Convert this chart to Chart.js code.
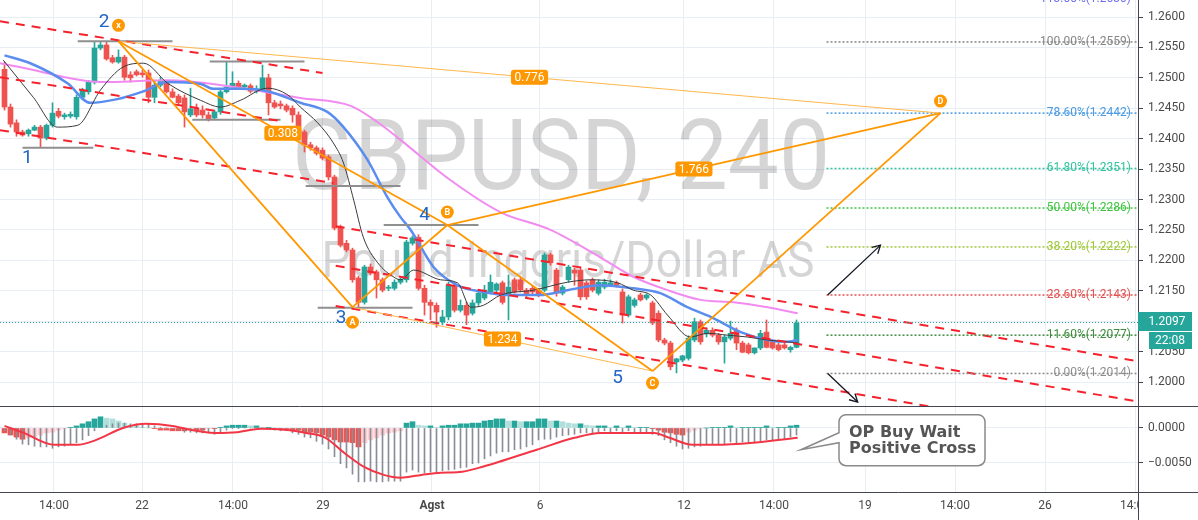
<!DOCTYPE html>
<html>
<head>
<meta charset="utf-8">
<title>GBPUSD 240</title>
<script src="https://cdn.jsdelivr.net/npm/chart.js@4.4.1/dist/chart.umd.min.js"></script>
<style>
html,body{margin:0;padding:0;background:#ffffff;overflow:hidden;}
#wrap{position:relative;width:1198px;height:520px;background:#fff;}
#c1{position:absolute;left:0;top:0;}
#c2{position:absolute;left:0;top:406px;}
</style>
</head>
<body>
<div id="wrap">
<canvas id="c1" width="1198" height="406"></canvas>
<canvas id="c2" width="1198" height="114"></canvas>
</div>
<script>
// ---------------- DATA ----------------
const candleOpen = [1.2514,1.2452,1.2426,1.2411,1.2408,1.2414,1.2419,1.2401,1.2422,1.2445,
1.2436,1.2437,1.2436,1.2468,1.2477,1.2493,1.2549,1.2554,1.2533,1.2526,
1.2534,1.2505,1.2510,1.2508,1.2508,1.2468,1.2488,1.2491,1.2477,1.2470,
1.2467,1.2439,1.2450,1.2447,1.2439,1.2434,1.2444,1.2477,1.2485,1.2491,
1.2485,1.2487,1.2478,1.2478,1.2500,1.2459,1.2457,1.2454,1.2450,1.2439,
1.2411,1.2390,1.2385,1.2381,1.2370,1.2337,1.2255,1.2228,1.2217,1.2171,
1.2131,1.2189,1.2181,1.2168,1.2154,1.2154,1.2164,1.2168,1.2228,1.2238,
1.2154,1.2131,1.2126,1.2099,1.2107,1.2159,1.2118,1.2126,1.2113,1.2130,
1.2138,1.2148,1.2151,1.2163,1.2143,1.2168,1.2168,1.2151,1.2154,1.2151,
1.2151,1.2209,1.2184,1.2146,1.2168,1.2184,1.2184,1.2163,1.2168,1.2146,
1.2156,1.2159,1.2163,1.2148,1.2110,1.2126,1.2143,1.2138,1.2130,1.2113,
1.2069,1.2064,1.2033,1.2036,1.2039,1.2069,1.2099,1.2079,1.2085,1.2077,
1.2066,1.2072,1.2085,1.2064,1.2061,1.2048,1.2056,1.2082,1.2066,1.2061,
1.2061,1.2053,1.2057];
const candleHigh = [1.2526,1.2457,1.2431,1.2414,1.2416,1.2422,1.2422,1.2424,1.2459,1.2450,
1.2442,1.2444,1.2472,1.2483,1.2496,1.2559,1.2559,1.2559,1.2537,1.2546,
1.2537,1.2510,1.2513,1.2513,1.2513,1.2496,1.2501,1.2496,1.2482,1.2473,
1.2472,1.2483,1.2457,1.2454,1.2444,1.2447,1.2480,1.2526,1.2510,1.2495,
1.2490,1.2490,1.2487,1.2521,1.2506,1.2463,1.2462,1.2457,1.2454,1.2444,
1.2414,1.2394,1.2388,1.2385,1.2373,1.2340,1.2258,1.2233,1.2220,1.2174,
1.2192,1.2194,1.2184,1.2171,1.2159,1.2168,1.2171,1.2233,1.2240,1.2242,
1.2159,1.2135,1.2130,1.2118,1.2164,1.2163,1.2135,1.2131,1.2135,1.2151,
1.2159,1.2176,1.2163,1.2166,1.2176,1.2171,1.2173,1.2154,1.2158,1.2154,
1.2212,1.2212,1.2187,1.2159,1.2192,1.2187,1.2187,1.2166,1.2171,1.2168,
1.2169,1.2168,1.2166,1.2153,1.2143,1.2138,1.2146,1.2145,1.2133,1.2117,
1.2072,1.2067,1.2039,1.2044,1.2076,1.2105,1.2102,1.2089,1.2089,1.2080,
1.2077,1.2100,1.2089,1.2067,1.2064,1.2056,1.2085,1.2102,1.2069,1.2064,
1.2064,1.2059,1.2102];
const candleLow = [1.2447,1.2419,1.2404,1.2404,1.2404,1.2413,1.2385,1.2398,1.2419,1.2434,
1.2432,1.2434,1.2432,1.2465,1.2473,1.2490,1.2546,1.2529,1.2524,1.2524,
1.2496,1.2493,1.2503,1.2501,1.2459,1.2459,1.2485,1.2475,1.2467,1.2455,
1.2419,1.2436,1.2436,1.2434,1.2429,1.2431,1.2440,1.2475,1.2483,1.2482,
1.2483,1.2475,1.2475,1.2477,1.2439,1.2450,1.2449,1.2444,1.2427,1.2411,
1.2378,1.2381,1.2373,1.2365,1.2332,1.2250,1.2222,1.2214,1.2164,1.2122,
1.2128,1.2176,1.2138,1.2148,1.2150,1.2151,1.2161,1.2164,1.2225,1.2151,
1.2110,1.2102,1.2090,1.2094,1.2102,1.2115,1.2115,1.2094,1.2110,1.2126,
1.2135,1.2145,1.2148,1.2128,1.2102,1.2146,1.2148,1.2140,1.2145,1.2140,
1.2148,1.2192,1.2141,1.2143,1.2164,1.2159,1.2135,1.2136,1.2148,1.2143,
1.2153,1.2158,1.2156,1.2097,1.2107,1.2123,1.2133,1.2135,1.2094,1.2066,
1.2061,1.2020,1.2015,1.2033,1.2036,1.2066,1.2062,1.2074,1.2074,1.2062,
1.2031,1.2069,1.2053,1.2048,1.2046,1.2046,1.2053,1.2056,1.2054,1.2051,
1.2054,1.2049,1.2056];
const candleClose = [1.2452,1.2424,1.2411,1.2406,1.2414,1.2419,1.2401,1.2422,1.2442,1.2437,
1.2439,1.2440,1.2468,1.2480,1.2493,1.2549,1.2554,1.2531,1.2526,1.2534,
1.2501,1.2500,1.2505,1.2505,1.2468,1.2488,1.2496,1.2477,1.2468,1.2459,
1.2444,1.2449,1.2439,1.2439,1.2431,1.2444,1.2477,1.2485,1.2491,1.2485,
1.2488,1.2478,1.2482,1.2500,1.2459,1.2452,1.2454,1.2447,1.2439,1.2411,
1.2390,1.2385,1.2376,1.2368,1.2337,1.2253,1.2225,1.2217,1.2168,1.2131,
1.2189,1.2179,1.2168,1.2151,1.2156,1.2164,1.2169,1.2230,1.2237,1.2154,
1.2131,1.2126,1.2115,1.2107,1.2159,1.2118,1.2126,1.2110,1.2130,1.2146,
1.2151,1.2164,1.2161,1.2131,1.2156,1.2148,1.2151,1.2143,1.2148,1.2143,
1.2209,1.2196,1.2146,1.2156,1.2189,1.2179,1.2140,1.2140,1.2151,1.2164,
1.2164,1.2163,1.2159,1.2110,1.2140,1.2135,1.2135,1.2143,1.2097,1.2069,
1.2064,1.2025,1.2038,1.2043,1.2072,1.2099,1.2066,1.2085,1.2077,1.2066,
1.2074,1.2080,1.2064,1.2049,1.2048,1.2056,1.2080,1.2057,1.2056,1.2053,
1.2056,1.2057,1.2097];

// moving averages (candle index, price)
const maBlueIdx = [0,4.3,10.5,14.3,18.8,23.2,27.2,32.7,34.8,39.3,43.8,49.3,53.8,56.5,60.5,63.8,66,67.7,71.5,75.5,79.8,83.8,89.3,93.8,99.3,104.8,109.3,113.8,117.7,122.7,127.2,130.5,132.2];
const maBluePrice = [1.2537,1.2524,1.2491,1.2459,1.2465,1.2478,1.2493,1.2490,1.2482,1.2482,1.2478,1.2459,1.2444,1.2419,1.2365,1.2304,1.2271,1.2250,1.2189,1.2159,1.2148,1.2143,1.2143,1.2151,1.2159,1.2154,1.2146,1.2123,1.2107,1.2082,1.2069,1.2066,1.2069];
const maPinkIdx = [-0.75,4.8,10.5,16,27.2,38.2,49.3,57.7,62.2,66,74.3,82.7,91,99.3,104.8,110.5,116,121.5,127.2,132.2];
const maPinkPrice = [1.2524,1.2513,1.2500,1.2493,1.2496,1.2485,1.2467,1.2454,1.2427,1.2398,1.2332,1.2279,1.2250,1.2205,1.2173,1.2151,1.2135,1.2131,1.2123,1.2113];
const maBlackIdx = [-0.2,4.8,8.8,12.2,16,19.8,23.2,27.2,32.7,36,39.3,43.8,47.2,49.3,52.2,54.8,56.5,58.2,59.8,62.2,64.8,66,68.2,72.7,75.5,77.7,79.8,82.7,88.2,93.8,97.7,102.2,104.8,107.7,110.5,114.3,117.2,120.5,123.8,127.2,130.5,132.2];
const maBlackPrice = [1.2529,1.2468,1.2419,1.2422,1.2480,1.2518,1.2524,1.2491,1.2463,1.2452,1.2463,1.2483,1.2472,1.2452,1.2426,1.2393,1.2360,1.2299,1.2238,1.2196,1.2173,1.2168,1.2184,1.2168,1.2163,1.2123,1.2126,1.2143,1.2151,1.2164,1.2168,1.2163,1.2151,1.2143,1.2110,1.2074,1.2080,1.2077,1.2074,1.2069,1.2066,1.2064];

// MACD panel
const macdLine = [-0.0004,-0.0010,-0.0016,-0.0023,-0.0024,-0.0026,-0.0027,-0.0027,-0.0029,-0.0027,
-0.0026,-0.0023,-0.0021,-0.0017,-0.0011,-0.0004,0.0001,0.0004,0.0006,0.0007,
0.0007,0.0006,0.0006,0.0006,0.0006,0.0003,0.0001,0,-0.0001,-0.0003,
-0.0006,-0.0006,-0.0007,-0.0007,-0.0007,-0.0009,-0.0006,-0.0003,-0.0001,-0.0001,
0,0,0.0001,0,0,-0.0003,-0.0004,-0.0004,-0.0007,-0.0009,
-0.0013,-0.0014,-0.0019,-0.0023,-0.0030,-0.0041,-0.0051,-0.0057,-0.0066,-0.0077,
-0.0077,-0.0076,-0.0077,-0.0077,-0.0076,-0.0076,-0.0076,-0.0063,-0.0060,-0.0063,
-0.0064,-0.0063,-0.0063,-0.0061,-0.0060,-0.0059,-0.0057,-0.0056,-0.0051,-0.0050,
-0.0044,-0.0040,-0.0036,-0.0034,-0.0034,-0.0031,-0.0030,-0.0027,-0.0024,-0.0017,
-0.0016,-0.0016,-0.0013,-0.0011,-0.0010,-0.0009,-0.0007,-0.0007,-0.0007,-0.0006,
-0.0004,-0.0006,-0.0004,-0.0006,-0.0004,-0.0006,-0.0006,-0.0006,-0.0009,-0.0011,
-0.0017,-0.0021,-0.0026,-0.0030,-0.0029,-0.0027,-0.0026,-0.0024,-0.0023,-0.0023,
-0.0023,-0.0020,-0.0021,-0.0020,-0.0020,-0.0020,-0.0019,-0.0017,-0.0017,-0.0016,
-0.0016,-0.0013,-0.0010];
const macdHist = [-0.0007,-0.0010,-0.0013,-0.0016,-0.0014,-0.0013,-0.0010,-0.0007,-0.0006,-0.0003,
-0.0001,0.0001,0.0003,0.0006,0.0009,0.0013,0.0016,0.0014,0.0013,0.0010,
0.0007,0.0004,0.0003,0.0001,0,-0.0001,-0.0003,-0.0003,-0.0004,-0.0004,
-0.0004,-0.0003,-0.0003,-0.0003,-0.0001,-0.0001,0.0001,0.0003,0.0004,0.0004,
0.0004,0.0003,0.0003,0.0001,0.0001,0,-0.0001,-0.0001,-0.0003,-0.0003,
-0.0006,-0.0006,-0.0007,-0.0010,-0.0013,-0.0017,-0.0020,-0.0020,-0.0021,-0.0027,
-0.0021,-0.0017,-0.0014,-0.0010,-0.0007,-0.0006,-0.0004,0.0007,0.0009,0.0004,
0.0003,0.0003,0.0001,0.0003,0.0004,0.0004,0.0006,0.0006,0.0007,0.0007,
0.0010,0.0011,0.0013,0.0013,0.0010,0.0010,0.0009,0.0009,0.0009,0.0013,
0.0013,0.0010,0.0010,0.0009,0.0007,0.0006,0.0006,0.0004,0.0003,0.0003,
0.0003,0.0001,0.0003,0.0001,0.0003,0.0001,0.0001,0.0001,-0.0001,-0.0003,
-0.0006,-0.0007,-0.0009,-0.0010,-0.0006,-0.0003,-0.0001,0,0.0001,0.0001,
0.0001,0.0003,0.0001,0.0001,0.0001,0.0001,0.0001,0.0003,0.0001,0.0001,
0.0001,0.0003,0.0004];
const signalIdx = [0,3.2,8.3,12.1,15.3,19.75,23.6,28,31.2,35,38.8,42.7,47.2,50.3,53.5,56.7,60,63.2,66,69.5,72.7,75.8,79,82.2,88.7,95,99.3,108.3,110.8,114.7,118.5,124.8,132.2];
const signalVal = [0.0003,-0.0007,-0.0024,-0.0024,-0.0017,0,0.0006,0.0003,-0.0003,-0.0007,-0.0006,-0.0001,-0.0003,-0.0007,-0.0014,-0.0036,-0.0056,-0.0067,-0.0071,-0.0067,-0.0064,-0.0063,-0.0057,-0.0049,-0.0031,-0.0014,-0.0007,-0.0007,-0.0014,-0.0024,-0.0024,-0.0021,-0.0014];

// axes
const priceTicks = [1.2000,1.2050,1.2100,1.2150,1.2200,1.2250,1.2300,1.2350,1.2400,1.2450,1.2500,1.2550,1.2600];
const macdTicks = [0,-0.005];
const xTickPos = [8.25,22.92,38.08,53.08,71.25,89.25,113.25,128.25,143.42,158.42,173.42,188.42];
const xTickLabels = ['14:00','22','14:00','29','Agst','6','12','14:00','19','14:00','26','14:00'];
const lastPrice = 1.2097;
const lastTime = '22:08';

// drawings (candle index, price)
const patternNames = ['X','A','B','C','D'];
const patternIdx = [19,58,73.8,108,156];
const patternPrice = [1.2560,1.2123,1.2258,1.2018,1.2442];
const ratioLabels = [['X','B','0.308'],['X','D','0.776'],['B','D','1.766'],['A','C','1.234']];
const waveText = ['1','2','3','4','5'];
const waveIdx = [3.8,16.6,56.1,70,102.2];
const wavePrice = [1.2368,1.2592,1.2105,1.2274,1.2006];
const levelStart = [3,12.2,34.2,31.3,50.2,52.2,63.2];
const levelEnd = [14.8,28,50,46,66,68,79];
const levelPrice = [1.2385,1.2560,1.2527,1.2431,1.2322,1.2122,1.2258];
const channelStartIdx = [-0.75,-0.75,-0.75,55.2,55.2,55.2];
const channelStartPrice = [1.2593,1.2501,1.2414,1.2256,1.2191,1.2125];
const channelEndIdx = [53,46,54.8,188.9,188.9,188.9];
const channelEndPrice = [1.2508,1.2429,1.2327,1.2034,1.1968,1.1902];
const fibLabels = ['113.00%','100.00%','78.60%','61.80%','50.00%','38.20%','23.60%','11.60%','0.00%'];
const fibPrices = [1.2630,1.2559,1.2442,1.2351,1.2286,1.2222,1.2143,1.2077,1.2014];
const fibStart = 137, fibEnd = 188.4;
const arrowFrom = [[137.2,1.2143],[137.2,1.2014]];
const arrowTo = [[146,1.2225],[142.2,1.1967]];
const WATERMARK = ['GBPUSD, 240','Pound Inggris/Dollar AS'];
const CALLOUT = ['OP Buy Wait','Positive Cross'];
const calloutTip = [132.75,-0.0031];

// ---------------- STYLE ----------------
const UP='#26a69a', DOWN='#ef5350', GRID='#e9eef4', AXIS='#434651', TXT='#4a4a4a';
const ORANGE='#ff9800', ORANGE_L='#ffb74d';
const fibColors = ['#6f6fe8','#858585','#4a9be0','#33c39c','#3fc43f','#9fc83a','#e05252','#3d8b3d','#8c8c8c'];
const FONT = 'Roboto, "Liberation Sans", sans-serif';
const XMIN = -0.75, XMAX = 188.917;

function P(name){ const k = patternNames.indexOf(name); return [patternIdx[k], patternPrice[k]]; }
function lineDs(pts, color, width, dash, order, extra){
  return Object.assign({type:'line', data: pts.map(p=>({x:p[0], y:p[1]})), borderColor:color, borderWidth:width,
    borderDash:dash||[], pointRadius:0, pointHoverRadius:0, fill:false, tension:0, order:order}, extra||{});
}
function xScale(show){
  return {
    type:'linear', min:XMIN, max:XMAX, offset:false,
    afterBuildTicks: s => { s.ticks = xTickPos.map(v=>({value:v})); },
    afterFit: s => { s.paddingLeft = 0; s.paddingRight = 0; s.height = show ? 28 : 0; },
    grid:{color:GRID, drawTicks:false, offset:false, lineWidth:1},
    border:{display:false},
    ticks:{display:show, autoSkip:false, maxRotation:0, minRotation:0, padding:7, color:TXT,
      font: ctx => ({family:FONT, size:12, weight: xTickLabels[ctx.index]==='Agst' ? 'bold' : 'normal'}),
      callback:(v,i)=>xTickLabels[i]}
  };
}
function rrect(ctx,x,y,w,h,r){
  ctx.beginPath(); ctx.moveTo(x+r,y); ctx.lineTo(x+w-r,y); ctx.arcTo(x+w,y,x+w,y+r,r);
  ctx.lineTo(x+w,y+h-r); ctx.arcTo(x+w,y+h,x+w-r,y+h,r); ctx.lineTo(x+r,y+h); ctx.arcTo(x,y+h,x,y+h-r,r);
  ctx.lineTo(x,y+r); ctx.arcTo(x,y,x+r,y,r); ctx.closePath();
}

// ---------------- MAIN CHART ----------------
const ds = [];
// pattern
[['X','A'],['A','B'],['B','C'],['C','D'],['X','B'],['B','D']].forEach(s=>ds.push(lineDs([P(s[0]),P(s[1])],ORANGE,1.8,[],0)));
[['X','D'],['A','C']].forEach(s=>ds.push(lineDs([P(s[0]),P(s[1])],ORANGE_L,1,[],0)));
// arrows
arrowFrom.forEach((f,k)=>ds.push(lineDs([f,arrowTo[k]],'#131722',1.3,[],0)));
// fib levels
fibPrices.forEach((p,k)=>ds.push(lineDs([[fibStart,p],[fibEnd+0.4,p]],fibColors[k],1.5,[2,2],1)));
// channels
channelStartIdx.forEach((s,k)=>ds.push(lineDs([[s,channelStartPrice[k]],[channelEndIdx[k],channelEndPrice[k]]],'#f5222d',2,[9,7],1)));
// gray pivot levels
levelStart.forEach((s,k)=>ds.push(lineDs([[s,levelPrice[k]],[levelEnd[k],levelPrice[k]]],'#8f8f8f',2,[],1)));
// moving averages
ds.push(lineDs(maBlackIdx.map((x,i)=>[x,maBlackPrice[i]]),'#3a3a3a',1,[],2,{cubicInterpolationMode:'monotone'}));
ds.push(lineDs(maBlueIdx.map((x,i)=>[x,maBluePrice[i]]),'#5b8def',2.5,[],3,{cubicInterpolationMode:'monotone'}));
ds.push(lineDs(maPinkIdx.map((x,i)=>[x,maPinkPrice[i]]),'#f28bf0',2,[],3,{cubicInterpolationMode:'monotone'}));
// candles
const candleColors = candleClose.map((c,i)=> c>=candleOpen[i] ? UP : DOWN);
ds.push({type:'bar', data: candleOpen.map((o,i)=>({x:i, y:[o, candleClose[i]]})), backgroundColor:candleColors,
  barThickness:5, grouped:false, minBarLength:1, borderWidth:0, order:5});
ds.push({type:'bar', data: candleLow.map((l,i)=>({x:i, y:[l, candleHigh[i]]})), backgroundColor:candleColors,
  barThickness:1, grouped:false, minBarLength:1, borderWidth:0, order:6});

const mainPlugin = {
  id:'mainDeco',
  beforeDatasetsDraw(c){
    const ctx=c.ctx, a=c.chartArea, Y=c.scales.y;
    ctx.save();
    ctx.beginPath(); ctx.rect(a.left,a.top,a.right-a.left,a.bottom-a.top); ctx.clip();
    ctx.fillStyle='rgba(0,0,0,0.165)'; ctx.textAlign='center'; ctx.textBaseline='alphabetic';
    const cx=(a.left+a.right)/2;
    ctx.font='98px '+FONT; ctx.fillText(WATERMARK[0], cx-8, 189, 538);
    ctx.font='50px '+FONT; ctx.fillText(WATERMARK[1], cx-1, 277, 493);
    ctx.restore();
  },
  afterDatasetsDraw(c){
    const ctx=c.ctx, a=c.chartArea, X=c.scales.x, Y=c.scales.y;
    const px=(i,p)=>[X.getPixelForValue(i), Y.getPixelForValue(p)];
    ctx.save();
    ctx.beginPath(); ctx.rect(a.left,a.top,a.right-a.left,a.bottom-a.top); ctx.clip();
    // last price line
    const yl=Math.round(Y.getPixelForValue(lastPrice))-0.5;
    ctx.strokeStyle=UP; ctx.lineWidth=1; ctx.setLineDash([1,2]);
    ctx.beginPath(); ctx.moveTo(a.left,yl); ctx.lineTo(a.right,yl); ctx.stroke();
    ctx.setLineDash([]);
    // arrowheads
    ctx.strokeStyle='#131722'; ctx.lineWidth=1.3;
    arrowFrom.forEach((f,k)=>{
      const [x0,y0]=px(f[0],f[1]), [x1,y1]=px(arrowTo[k][0],arrowTo[k][1]);
      const ang=Math.atan2(y1-y0,x1-x0), L=9;
      ctx.beginPath();
      ctx.moveTo(x1-L*Math.cos(ang-0.5), y1-L*Math.sin(ang-0.5)); ctx.lineTo(x1,y1);
      ctx.lineTo(x1-L*Math.cos(ang+0.5), y1-L*Math.sin(ang+0.5)); ctx.stroke();
    });
    // fib labels
    ctx.font='12px '+FONT; ctx.textAlign='right'; ctx.textBaseline='middle';
    fibLabels.forEach((t,k)=>{
      ctx.fillStyle=fibColors[k];
      ctx.fillText(t+'('+fibPrices[k].toFixed(4)+')', X.getPixelForValue(fibEnd)-4, Y.getPixelForValue(fibPrices[k]));
    });
    // ratio labels
    ctx.font='12px '+FONT; ctx.textAlign='center';
    ratioLabels.forEach(r=>{
      const a1=P(r[0]), b1=P(r[1]);
      const [x,y]=px((a1[0]+b1[0])/2,(a1[1]+b1[1])/2);
      const w=ctx.measureText(r[2]).width+7;
      ctx.fillStyle=ORANGE; rrect(ctx,x-w/2,y-7.5,w,15,3); ctx.fill();
      ctx.fillStyle='#fff'; ctx.fillText(r[2],x,y+0.5);
    });
    // pattern markers
    const off={X:-16,A:15,B:-13,C:12,D:-12};
    patternNames.forEach((n,k)=>{
      const [x,y]=px(patternIdx[k],patternPrice[k]);
      const yy=y+off[n];
      ctx.fillStyle=ORANGE; ctx.beginPath(); ctx.arc(x,yy,6.5,0,Math.PI*2); ctx.fill();
      ctx.fillStyle='#fff'; ctx.font='bold 9px '+FONT; ctx.textAlign='center'; ctx.textBaseline='middle';
      ctx.fillText(n.toLowerCase()==='x'?'x':n,x,yy+0.5);
    });
    // wave numbers
    ctx.font='19px '+FONT; ctx.fillStyle='#2166c2'; ctx.textAlign='center'; ctx.textBaseline='middle';
    waveText.forEach((t,k)=>{ const [x,y]=px(waveIdx[k],wavePrice[k]); ctx.fillText(t,x,y); });
    ctx.restore();
  },
  afterDraw(c){
    const ctx=c.ctx, a=c.chartArea, Y=c.scales.y;
    ctx.save();
    ctx.strokeStyle=AXIS; ctx.lineWidth=1;
    ctx.beginPath(); ctx.moveTo(a.right+0.5,0); ctx.lineTo(a.right+0.5,c.height); ctx.stroke();
    const yp=Math.round(Y.getPixelForValue(lastPrice));
    ctx.fillStyle=UP;
    ctx.fillRect(a.right,yp-11,54,19);
    ctx.fillRect(a.right+11,yp+9,43,17);
    ctx.fillStyle='#fff'; ctx.font='12px '+FONT; ctx.textAlign='center'; ctx.textBaseline='middle';
    ctx.fillText(lastPrice.toFixed(4), a.right+29, yp-1.5);
    ctx.fillText(lastTime, a.right+32, yp+17.5);
    ctx.restore();
  }
};

new Chart(document.getElementById('c1'), {
  type:'bar',
  data:{datasets:ds},
  options:{
    responsive:false, animation:false, events:[], devicePixelRatio:1,
    layout:{padding:0},
    plugins:{legend:{display:false}, tooltip:{enabled:false}},
    scales:{
      x: xScale(false),
      y: {type:'linear', position:'right', min:1.196055, max:1.262795,
        afterBuildTicks: s => { s.ticks = priceTicks.map(v=>({value:v})); },
        afterFit: s => { s.width = 60; s.paddingTop = 0; s.paddingBottom = 0; },
        grid:{color:GRID, tickColor:AXIS, tickLength:5, drawTicks:true},
        border:{display:false},
        ticks:{padding:5, color:TXT, font:{family:FONT, size:12}, callback:v=>v.toFixed(4)}
      }
    }
  },
  plugins:[mainPlugin]
});

// ---------------- MACD CHART ----------------
const histColors = macdHist.map((v,i)=>{
  const p = i>0 ? macdHist[i-1] : v;
  if (v>=0) return v>=p ? '#26a69a' : '#b2dfdb';
  return v<=p ? '#ef5350' : '#ffcdd2';
});
const ds2 = [
  lineDs(signalIdx.map((x,i)=>[x,signalVal[i]]),'#f23645',2,[],0,{cubicInterpolationMode:'monotone'}),
  {type:'bar', data: macdLine.map((v,i)=>({x:i,y:v})), backgroundColor:'#8a8d96', barThickness:1, grouped:false, borderWidth:0, order:1},
  {type:'bar', data: macdHist.map((v,i)=>({x:i,y:v})), backgroundColor:histColors, barThickness:5, grouped:false, borderWidth:0, order:2}
];
const macdPlugin = {
  id:'macdDeco',
  afterDraw(c){
    const ctx=c.ctx, a=c.chartArea, W=c.width, H=c.height, X=c.scales.x, Y=c.scales.y;
    ctx.save();
    ctx.fillStyle='#fff'; ctx.fillRect(a.right+1, a.bottom+1, W-a.right-1, H-a.bottom-1);
    ctx.strokeStyle=AXIS; ctx.lineWidth=1; ctx.setLineDash([]);
    ctx.beginPath();
    ctx.moveTo(0,0.5); ctx.lineTo(W,0.5);
    ctx.moveTo(0,a.bottom+0.5); ctx.lineTo(W,a.bottom+0.5);
    ctx.moveTo(a.right+0.5,0); ctx.lineTo(a.right+0.5,H);
    ctx.stroke();
    // callout
    const tx=X.getPixelForValue(calloutTip[0]), ty=Y.getPixelForValue(calloutTip[1]);
    const x0=tx+38, y0=ty-35, w=146, h=51, r=7;
    ctx.beginPath();
    ctx.moveTo(x0+r,y0); ctx.lineTo(x0+w-r,y0); ctx.arcTo(x0+w,y0,x0+w,y0+r,r);
    ctx.lineTo(x0+w,y0+h-r); ctx.arcTo(x0+w,y0+h,x0+w-r,y0+h,r);
    ctx.lineTo(x0+r,y0+h); ctx.arcTo(x0,y0+h,x0,y0+h-r,r);
    ctx.lineTo(x0,ty-7); ctx.lineTo(tx,ty); ctx.lineTo(x0,ty-17);
    ctx.lineTo(x0,y0+r); ctx.arcTo(x0,y0,x0+r,y0,r); ctx.closePath();
    ctx.fillStyle='#fff'; ctx.fill();
    ctx.strokeStyle='#8a8a8a'; ctx.lineWidth=1.5; ctx.stroke();
    ctx.fillStyle='#555555'; ctx.font='bold 16px "DejaVu Sans", sans-serif'; ctx.textAlign='left'; ctx.textBaseline='alphabetic';
    ctx.fillText(CALLOUT[0], x0+10, y0+22);
    ctx.fillText(CALLOUT[1], x0+10, y0+38);
    ctx.restore();
  }
};
new Chart(document.getElementById('c2'), {
  type:'bar',
  data:{datasets:ds2},
  options:{
    responsive:false, animation:false, events:[], devicePixelRatio:1,
    layout:{padding:{top:1,left:0,right:0,bottom:0}},
    plugins:{legend:{display:false}, tooltip:{enabled:false}},
    scales:{
      x: xScale(true),
      y: {type:'linear', position:'right', min:-0.009143, max:0.003,
        afterBuildTicks: s => { s.ticks = macdTicks.map(v=>({value:v})); },
        afterFit: s => { s.width = 60; s.paddingTop = 0; s.paddingBottom = 0; },
        grid:{color:GRID, tickColor:AXIS, tickLength:5, drawTicks:true},
        border:{display:false},
        ticks:{padding:5, color:TXT, font:{family:FONT, size:12},
          callback:v=> v===0 ? '0.0000' : (v<0?'\u2212':'')+Math.abs(v).toFixed(4)}
      }
    }
  },
  plugins:[macdPlugin]
});
</script>
</body>
</html>
